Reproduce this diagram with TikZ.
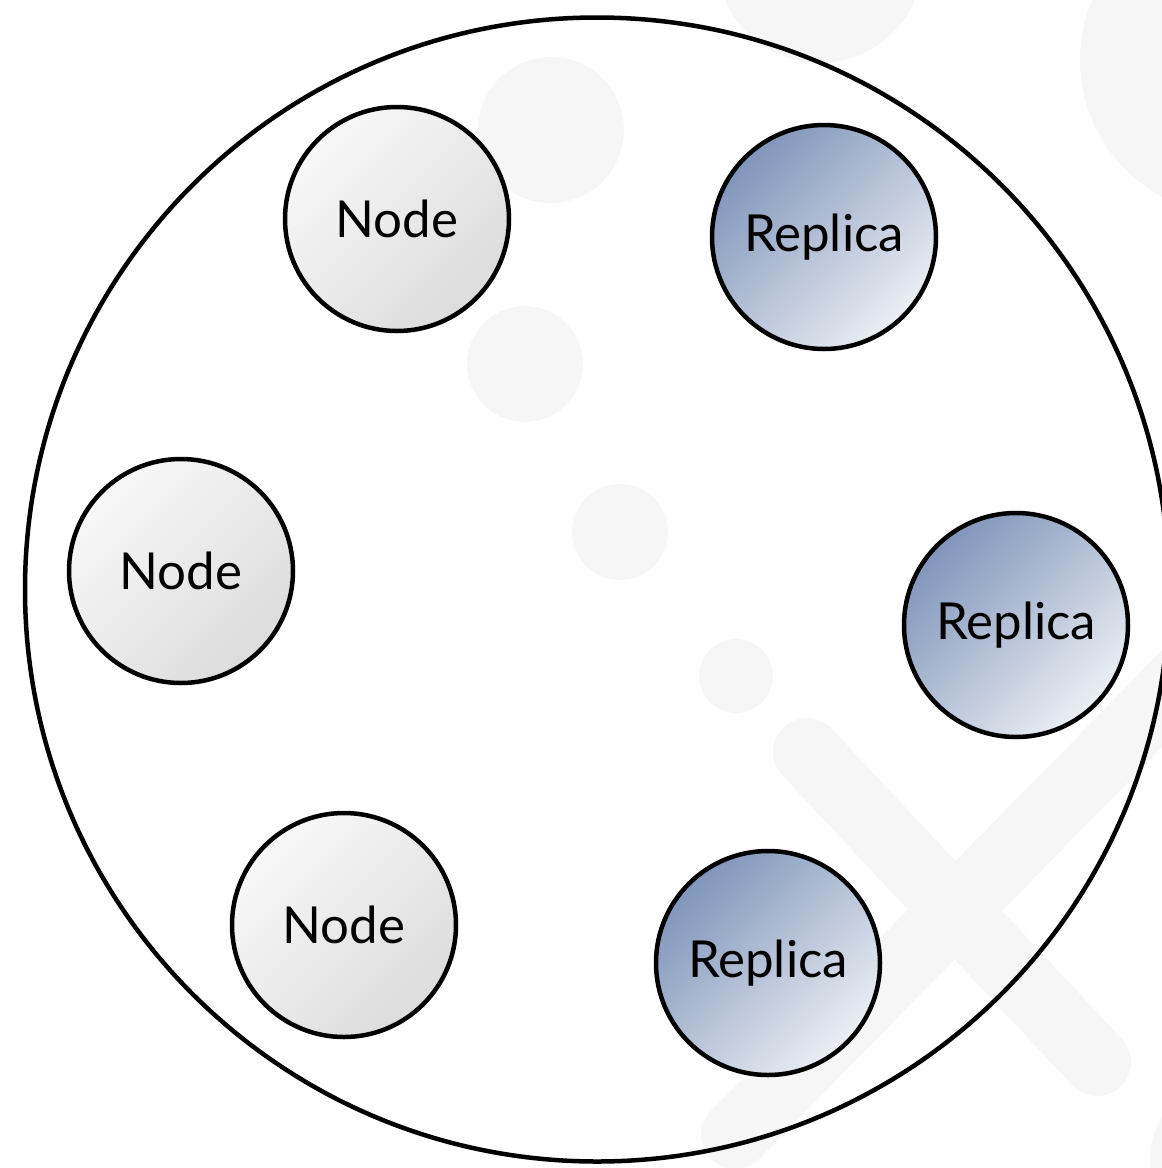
\documentclass[tikz,border=0pt]{standalone}
\usepackage{fontspec}
\setmainfont{Lato}
\definecolor{faintgray}{HTML}{F6F6F6}
\definecolor{nodetop}{HTML}{F8F8F8}
\definecolor{nodebot}{HTML}{DCDCDC}
\definecolor{reptop}{HTML}{7F95BA}
\definecolor{repbot}{HTML}{ECEFF4}
\tikzset{
  member/.style={circle, draw=black, line width=4.5pt, minimum size=224pt,
    inner sep=0pt, font=\fontsize{51}{60}\selectfont},
  plainnode/.style={member, top color=nodetop, bottom color=nodebot, shading angle=45},
  replica/.style={member, top color=reptop, bottom color=repbot, shading angle=45},
  markband/.style={draw=faintgray, line width=68pt, line cap=round}
}
\begin{document}
\begin{tikzpicture}[x=1pt, y=-1pt]
  \useasboundingbox (0,0) rectangle (1162,1168);
  \begin{scope}
    \clip (0,0) rectangle (1162,1168);
    % faint background marks
    \fill[faintgray] (820,-40) circle (103);
    \fill[faintgray] (1235,60) circle (155);
    \fill[faintgray] (551,130) circle (73);
    \fill[faintgray] (525,364) circle (58);
    \fill[faintgray] (620,532) circle (48);
    \fill[faintgray] (736,676) circle (37);
    \fill[faintgray] (1235,1160) circle (85);
    \draw[markband] (807,752) -- (1097,1062);
    \draw[markband] (735,1135) -- (1200,660);
    % outer ring
    \draw[line width=4.5pt] (597,589.5) circle (572);
  \end{scope}
  \node[plainnode] (n1) at (397,219) {Node};
  \node[plainnode] (n2) at (181,571) {Node};
  \node[plainnode] (n3) at (344,925) {Node};
  \node[replica] (r1) at (824,237) {Replica};
  \node[replica] (r2) at (1016,625) {Replica};
  \node[replica] (r3) at (768,963) {Replica};
\end{tikzpicture}
\end{document}
